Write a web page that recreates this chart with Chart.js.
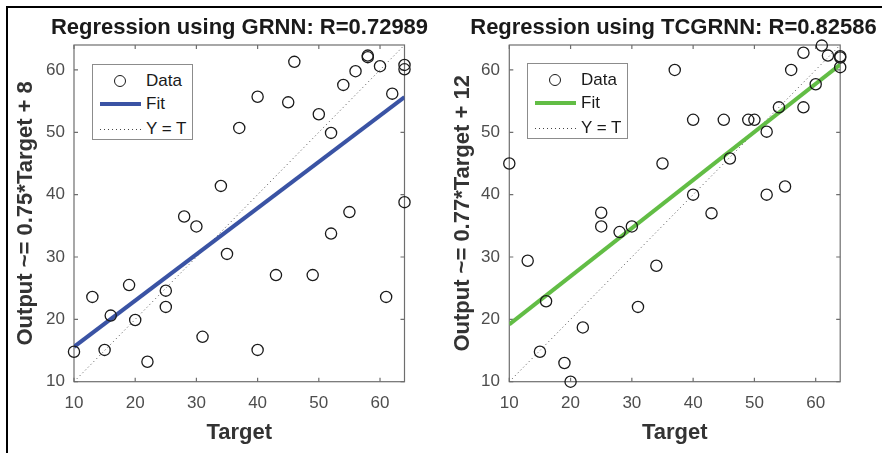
<!DOCTYPE html>
<html><head><meta charset="utf-8">
<script src="https://cdn.jsdelivr.net/npm/chart.js@4.4.1/dist/chart.umd.min.js"></script>
<style>
html,body{margin:0;padding:0;background:#fff;width:882px;height:453px;overflow:hidden;position:relative;font-family:Arial,'Liberation Sans',sans-serif;}
.wrap{position:absolute;top:0;height:453px;}
#frame{position:absolute;left:6px;top:6px;width:900px;height:470px;border-left:2px solid #000;border-top:2px solid #000;pointer-events:none;}
.legend{position:absolute;background:#fff;border:1px solid #8c8c8c;box-sizing:border-box;}
.row{position:absolute;left:0;right:0;height:0;}
.lbl{position:absolute;font-size:17px;color:#1a1a1a;line-height:20px;top:-10px;left:53px;white-space:nowrap;}
.circ{position:absolute;width:12px;height:12px;border:1.3px solid #1a1a1a;border-radius:50%;box-sizing:border-box;top:-6px;left:20.5px;}
.fitl{position:absolute;height:4px;top:-2px;left:7px;width:41px;}
.dotl{position:absolute;height:1px;top:0;left:7px;width:41px;background:repeating-linear-gradient(to right,#444 0 1px,transparent 1px 4px);}
</style>
</head><body>
<div class="wrap" style="left:0;width:479px"><canvas id="c1" width="479" height="453"></canvas></div>
<div class="wrap" style="left:441px;width:465px"><canvas id="c2" width="465" height="453"></canvas></div>
<div id="frame"></div>
<script>
// ---- data ----
const targets      = [10,13,15,16,19,20,22,25,25,28,30,31,34,35,37,40,40,43,45,46,49,50,52,52,54,55,56,58,58,60,61,62,64,64,64];
const outputsGRNN  = [14.8,23.6,15.1,20.6,25.5,19.9,13.2,24.6,22.0,36.5,34.9,17.2,41.4,30.5,50.7,55.7,15.1,27.1,54.8,61.3,27.1,52.9,33.75,49.9,57.6,37.2,59.8,62.3,62.05,60.6,23.6,56.2,60.8,60.1,38.8];
const outputsTCGRNN= [45.0,29.4,14.8,22.9,13.0,10.0,18.7,37.1,34.9,34.0,34.9,22.0,28.6,45.0,60.0,52.0,40.0,37.0,52.0,45.8,52.0,52.0,50.1,40.0,54.0,41.3,60.0,54.0,62.75,57.7,63.9,62.3,62.2,62.0,60.45];
const fitEnds      = [10, 64];          // target at fit-line ends
const fitGRNN      = [15.6, 55.65];
const fitTCGRNN    = [19.2, 60.85];
const axisLimits   = [10, 64];
const tickValues   = [10,20,30,40,50,60];
const titles       = ['Regression using GRNN: R=0.72989','Regression using TCGRNN: R=0.82586'];
const yTitles      = ['Output ~= 0.75*Target + 8','Output ~= 0.77*Target + 12'];
const xTitle       = 'Target';
const legendLabels = ['Data','Fit','Y = T'];

Chart.defaults.font.family = "Arial, 'Liberation Sans', sans-serif";

const boxTicks = {
  id:'boxTicks',
  beforeDatasetsDraw(chart){
    const {ctx, chartArea:a, scales:{x,y}} = chart;
    ctx.save();
    ctx.strokeStyle='#6e6e6e'; ctx.lineWidth=1.2;
    ctx.strokeRect(a.left, a.top, a.right-a.left, a.bottom-a.top);
    const L=4;
    ctx.beginPath();
    x.ticks.forEach(t=>{const p=x.getPixelForValue(t.value);
      ctx.moveTo(p,a.bottom); ctx.lineTo(p,a.bottom-L); ctx.moveTo(p,a.top); ctx.lineTo(p,a.top+L);});
    y.ticks.forEach(t=>{const p=y.getPixelForValue(t.value);
      ctx.moveTo(a.left,p); ctx.lineTo(a.left+L,p); ctx.moveTo(a.right,p); ctx.lineTo(a.right-L,p);});
    ctx.stroke(); ctx.restore();
  }
};

function makeChart(id, cfg){
  return new Chart(document.getElementById(id), {
    type:'scatter',
    data:{datasets:[
      {label:legendLabels[0], data:targets.map((t,i)=>({x:t,y:cfg.outputs[i]})), showLine:false,
       pointRadius:5.6, pointHoverRadius:5.6, borderWidth:1.3, pointBorderWidth:1.3,
       borderColor:'#1a1a1a', pointBorderColor:'#1a1a1a', backgroundColor:'rgba(0,0,0,0)', pointBackgroundColor:'rgba(0,0,0,0)',
       clip:false, order:0},
      {label:legendLabels[1], data:fitEnds.map((t,i)=>({x:t,y:cfg.fit[i]})), showLine:true,
       borderColor:cfg.color, borderWidth:4, pointRadius:0, borderCapStyle:'butt', order:1},
      {label:legendLabels[2], data:axisLimits.map(t=>({x:t,y:t})), showLine:true,
       borderColor:'#505050', borderWidth:1, borderDash:[1,3], pointRadius:0, order:2}
    ]},
    options:{
      responsive:false, animation:false, events:[],
      layout:{padding:0},
      plugins:{
        legend:{display:false}, tooltip:{enabled:false},
        title:{display:true, text:cfg.title, color:'#1a1a1a',
          font:{size:22, weight:'bold'}, padding:{top:14.8,bottom:3.8}}
      },
      scales:{
        x:{type:'linear', min:axisLimits[0], max:axisLimits[1],
          afterBuildTicks:s=>{s.ticks=tickValues.map(v=>({value:v}));},
          afterFit:s=>{s.height=71.3;},
          grid:{display:false, drawTicks:false}, border:{display:false},
          ticks:{color:'#4d4d4d', font:{size:17}, padding:11, maxRotation:0},
          title:{display:true, text:xTitle, color:'#333', font:{size:22, weight:'bold'}, padding:{top:0,bottom:6.8}}},
        y:{type:'linear', min:axisLimits[0], max:axisLimits[1],
          afterBuildTicks:s=>{s.ticks=tickValues.map(v=>({value:v}));},
          afterFit:s=>{s.width=cfg.yWidth;},
          grid:{display:false, drawTicks:false}, border:{display:false},
          ticks:{color:'#4d4d4d', font:{size:17}, padding:cfg.tickPad},
          title:{display:true, text:cfg.yTitle, color:'#333', font:{size:22, weight:'bold'}, padding:{top:cfg.yTitlePad,bottom:0}}},
        yRightSpace:{position:'right', display:true,
          afterFit:s=>{s.width=cfg.rightWidth;},
          grid:{display:false, drawTicks:false}, border:{display:false}, ticks:{display:false}}
      }
    },
    plugins:[boxTicks]
  });
}

makeChart('c1',{outputs:outputsGRNN, fit:fitGRNN, color:'#3a53a4', title:titles[0], yTitle:yTitles[0], rightWidth:74.5, yWidth:74, tickPad:9, yTitlePad:12.8});
makeChart('c2',{outputs:outputsTCGRNN, fit:fitTCGRNN, color:'#62bd45', title:titles[1], yTitle:yTitles[1], rightWidth:65.8, yWidth:68.3, tickPad:9.3, yTitlePad:8.3});

// legends (HTML)
function makeLegend(left, top, color){
  const box=document.createElement('div'); box.className='legend';
  Object.assign(box.style,{left:left+'px',top:top+'px',width:'101px',height:'76px'});
  const rowsY=[16,39,64];
  legendLabels.forEach((lab,i)=>{
    const r=document.createElement('div'); r.className='row'; r.style.top=rowsY[i]+'px';
    const sym=document.createElement('div');
    if(i===0) sym.className='circ';
    else if(i===1){ sym.className='fitl'; sym.style.background=color; }
    else sym.className='dotl';
    const l=document.createElement('div'); l.className='lbl'; l.textContent=lab;
    r.appendChild(sym); r.appendChild(l); box.appendChild(r);
  });
  document.body.appendChild(box);
}
makeLegend(92,64,'#3a53a4');
makeLegend(527,63,'#62bd45');
</script>
</body></html>
